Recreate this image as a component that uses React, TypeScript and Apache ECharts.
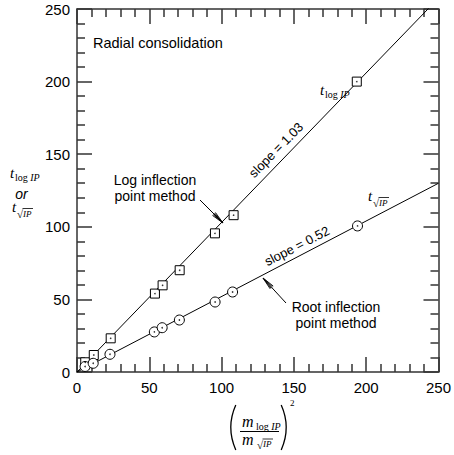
import React, { useEffect, useRef } from "react";
import * as echarts from "echarts";

// Tick values
const axisMin = 0;
const axisMax = 250;
const axisInterval = 50;

// Log inflection point method (squares)
const logX = [5.7, 11.6, 23.3, 53.9, 59.2, 71.0, 95.4, 108.3, 193.5];
const logY = [6.7, 11.7, 23.2, 54.0, 59.7, 70.1, 95.5, 108.0, 200.0];

// Root inflection point method (circles)
const rootX = [5.6, 11.2, 22.8, 53.5, 58.9, 70.8, 95.5, 107.6, 194.0];
const rootY = [3.8, 6.0, 12.2, 27.6, 30.5, 35.8, 48.2, 55.1, 100.6];

// Fitted line slopes
const slopes = [1.03, 0.52];
const fitX = [0, 250];

const SANS = "'Liberation Sans', Arial, Helvetica, sans-serif";
const SERIF = "'Liberation Serif', 'Times New Roman', serif";
const AX = "#333";

function zip(xs: number[], ys: number[]) {
  return xs.map((x, i) => [x, ys[i]]);
}

function txt(x: number, y: number, text: string, o: any = {}) {
  return {
    type: "text",
    x,
    y,
    rotation: o.rotation || 0,
    silent: true,
    style: {
      text,
      fill: "#000",
      fontSize: o.fontSize || 14,
      fontFamily: o.fontFamily || SANS,
      fontStyle: o.fontStyle || "normal",
      align: o.align || "left",
      verticalAlign: o.verticalAlign || "middle",
      lineHeight: o.lineHeight,
      rich: o.rich,
    },
  };
}

function seg(x1: number, y1: number, x2: number, y2: number, w = 1) {
  return {
    type: "line",
    silent: true,
    shape: { x1, y1, x2, y2 },
    style: { stroke: "#000", lineWidth: w },
  };
}

function arrow(tx: number, ty: number, hx: number, hy: number) {
  const ang = Math.atan2(ty - hy, tx - hx);
  const L = 13;
  const out: any[] = [seg(tx, ty, hx, hy, 1)];
  [-0.16, 0.16, -0.08, 0.08].forEach((d) => {
    out.push(seg(hx, hy, hx + L * Math.cos(ang + d), hy + L * Math.sin(ang + d), 0.9));
  });
  return out;
}

// t with "log IP" subscript; (x,baseline) of t
function tLog(x: number, b: number, tSize = 15, sSize = 10) {
  return [
    txt(x, b - 0.34 * tSize, "t", { fontFamily: SERIF, fontStyle: "italic", fontSize: tSize, lineHeight: tSize }),
    txt(x + 5, b + 3 - 0.34 * sSize, "{a|log }{b|IP}", {
      fontFamily: SERIF,
      fontSize: sSize,
      rich: {
        a: { fontFamily: SERIF, fontSize: sSize, fontStyle: "normal", fill: "#000" },
        b: { fontFamily: SERIF, fontSize: sSize, fontStyle: "italic", fill: "#000" },
      },
    }),
  ];
}

// radical IP subscript at (x, baseline)
function rootIP(x: number, b: number, s = 10) {
  return [
    txt(x, b - 0.3 * s, "√", { fontFamily: SERIF, fontSize: s + 1, lineHeight: s }),
    txt(x + 6, b - 0.34 * s, "IP", { fontFamily: SERIF, fontStyle: "italic", fontSize: s - 1, lineHeight: s - 1 }),
    seg(x + 5.5, b - s + 1.5, x + 16, b - s + 1.5, 0.8),
  ];
}

function tRoot(x: number, b: number, tSize = 15, sSize = 10) {
  return [
    txt(x, b - 0.34 * tSize, "t", { fontFamily: SERIF, fontStyle: "italic", fontSize: tSize, lineHeight: tSize }),
    ...rootIP(x + 5, b + 5, sSize),
  ];
}

export default function App() {
  const ref = useRef<HTMLDivElement>(null);

  useEffect(() => {
    if (!ref.current) return;
    const chart = echarts.init(ref.current, null, { renderer: "svg" });

    const axisBase: any = {
      type: "value",
      min: axisMin,
      max: axisMax,
      interval: axisInterval,
      axisLine: { show: true, onZero: false, lineStyle: { color: AX, width: 1.5 } },
      axisTick: { show: true, inside: true, length: 15, lineStyle: { color: AX, width: 1.5 } },
      minorTick: { show: true, splitNumber: 5, length: 8, lineStyle: { color: AX, width: 1.5 } },
      splitLine: { show: false },
      minorSplitLine: { show: false },
    };
    const labelStyle = { fontSize: 15, color: "#000", fontFamily: SANS };

    const subRich = {
      a: { fontFamily: SERIF, fontSize: 10, fontStyle: "normal", fill: "#000" },
      b: { fontFamily: SERIF, fontSize: 10, fontStyle: "italic", fill: "#000" },
    };

    const graphic: any[] = [
      txt(93, 43, "Radial consolidation", { fontSize: 14.5 }),
      // y axis title
      ...tLog(10, 178),
      txt(21.5, 194, "or", { fontStyle: "italic", fontSize: 14, align: "center", lineHeight: 12 }),
      ...tRoot(12, 212),
      // x axis title
      {
        type: "arc",
        silent: true,
        shape: { cx: 231 + 55, cy: 427.5, r: 55, startAngle: Math.PI - 0.42, endAngle: Math.PI + 0.42, clockwise: true },
        style: { stroke: "#000", lineWidth: 1.3, fill: null },
      },
      {
        type: "arc",
        silent: true,
        shape: { cx: 286 - 55, cy: 427.5, r: 55, startAngle: -0.42, endAngle: 0.42, clockwise: true },
        style: { stroke: "#000", lineWidth: 1.3, fill: null },
      },
      txt(242, 426.5 - 0.34 * 16, "m", { fontFamily: SERIF, fontStyle: "italic", fontSize: 16, lineHeight: 12 }),
      txt(256, 429.5 - 0.34 * 10, "{a|log }{b|IP}", { fontFamily: SERIF, fontSize: 10, lineHeight: 9, rich: subRich }),
      seg(240, 431.5, 279, 431.5, 1),
      txt(242, 445 - 0.34 * 16, "m", { fontFamily: SERIF, fontStyle: "italic", fontSize: 16, lineHeight: 12 }),
      ...rootIP(257, 447.5, 10),
      txt(290, 403, "2", { fontFamily: SERIF, fontSize: 9 }),
      // slope labels
      txt(276, 150, "slope = 1.03", { fontSize: 13, align: "center", rotation: 0.797 }),
      txt(297, 246, "slope = 0.52", { fontSize: 13, align: "center", rotation: 0.477 }),
      // point labels
      ...tLog(320, 95),
      ...tRoot(368, 201),
      // method annotations
      txt(155, 188, "Log inflection\npoint method", { fontSize: 14, align: "center", lineHeight: 15.5 }),
      ...arrow(200, 200, 223, 223),
      txt(336, 315, "Root inflection\npoint method", { fontSize: 14, align: "center", lineHeight: 15.5 }),
      ...arrow(286, 303, 263, 278),
    ];

    chart.setOption({
      animation: false,
      backgroundColor: "#fff",
      grid: { left: 77, top: 9, width: 364, height: 363, containLabel: false },
      xAxis: [
        { ...axisBase, position: "bottom", axisLabel: { show: true, margin: 8, ...labelStyle } },
        { ...axisBase, position: "top", axisLabel: { show: false } },
      ],
      yAxis: [
        { ...axisBase, position: "left", axisLabel: { show: true, margin: 7, ...labelStyle } },
        { ...axisBase, position: "right", axisLabel: { show: false } },
      ],
      series: [
        {
          type: "line",
          data: fitX.map((x) => [x, x * slopes[0]]),
          symbol: "none",
          clip: true,
          lineStyle: { color: "#000", width: 1 },
          z: 1,
          silent: true,
        },
        {
          type: "line",
          data: fitX.map((x) => [x, x * slopes[1]]),
          symbol: "none",
          clip: true,
          lineStyle: { color: "#000", width: 1 },
          z: 1,
          silent: true,
        },
        {
          type: "scatter",
          data: zip(logX, logY),
          symbol: "rect",
          symbolSize: 9,
          itemStyle: { color: "#fff", borderColor: "#000", borderWidth: 1, opacity: 1 },
          z: 3,
          silent: true,
        },
        {
          type: "scatter",
          data: zip(rootX, rootY),
          symbol: "circle",
          symbolSize: 10,
          itemStyle: { color: "#fff", borderColor: "#000", borderWidth: 1, opacity: 1 },
          z: 3,
          silent: true,
        },
        {
          type: "scatter",
          data: [...zip(logX, logY), ...zip(rootX, rootY)],
          symbol: "circle",
          symbolSize: 1.6,
          itemStyle: { color: "#000" },
          z: 4,
          silent: true,
        },
      ],
      graphic,
    });

    return () => chart.dispose();
  }, []);

  return (
    <div
      ref={ref}
      style={{ position: "absolute", left: 0, top: 0, width: 454, height: 455, background: "#fff" }}
    />
  );
}
